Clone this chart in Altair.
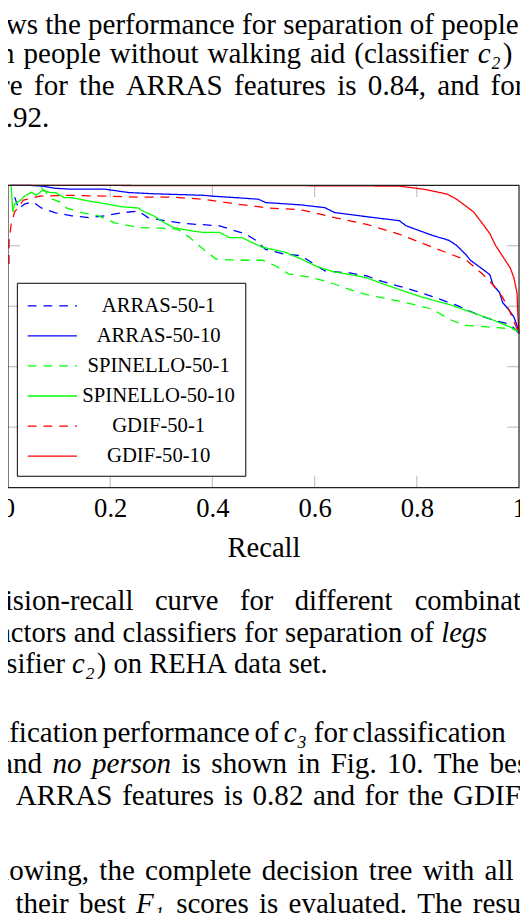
import altair as alt
import pandas as pd

# precision-recall curves
names = ["ARRAS-50-1", "ARRAS-50-10", "SPINELLO-50-1", "SPINELLO-50-10", "GDIF-50-1", "GDIF-50-10"]

arras_1_recall = [0.013, 0.021, 0.032, 0.049, 0.065, 0.093, 0.125, 0.158, 0.190, 0.222, 0.255, 0.274,
                  0.306, 0.350, 0.414, 0.466, 0.485, 0.504, 0.542, 0.574, 0.599, 0.620, 0.669, 0.702,
                  0.734, 0.766, 0.798, 0.831, 0.882, 0.926, 0.958, 0.981, 0.990, 1.0]
arras_1_prec = [0.961, 0.922, 0.938, 0.945, 0.925, 0.909, 0.899, 0.893, 0.899, 0.909, 0.915, 0.893,
                0.883, 0.873, 0.866, 0.838, 0.818, 0.788, 0.772, 0.767, 0.739, 0.717, 0.710, 0.700,
                0.681, 0.666, 0.650, 0.632, 0.600, 0.567, 0.550, 0.541, 0.528, 0.51]

arras_10_recall = [0.005, 0.040, 0.068, 0.093, 0.125, 0.190, 0.236, 0.285, 0.382, 0.401, 0.447, 0.490,
                   0.504, 0.574, 0.620, 0.639, 0.702, 0.766, 0.779, 0.831, 0.863, 0.878, 0.897, 0.905,
                   0.926, 0.943, 0.949, 0.962, 0.968, 0.981, 0.990, 0.996, 1.0]
arras_10_prec = [1.0, 1.0, 0.997, 0.990, 0.987, 0.987, 0.976, 0.972, 0.967, 0.964, 0.959, 0.954,
                 0.943, 0.935, 0.926, 0.910, 0.896, 0.883, 0.866, 0.834, 0.818, 0.801, 0.769, 0.752,
                 0.726, 0.704, 0.671, 0.645, 0.612, 0.586, 0.564, 0.537, 0.51]

spin_1_recall = [0.065, 0.087, 0.101, 0.114, 0.144, 0.177, 0.209, 0.255, 0.298, 0.331, 0.356, 0.382,
                 0.407, 0.447, 0.498, 0.523, 0.549, 0.587, 0.626, 0.669, 0.702, 0.766, 0.831, 0.863,
                 0.894, 0.958, 0.990, 1.0]
spin_1_prec = [0.993, 0.954, 0.945, 0.925, 0.910, 0.899, 0.876, 0.860, 0.858, 0.855, 0.827, 0.789,
               0.756, 0.752, 0.752, 0.734, 0.707, 0.697, 0.681, 0.655, 0.638, 0.617, 0.590, 0.557,
               0.537, 0.529, 0.524, 0.515]

spin_10_recall = [0.006, 0.0095, 0.013, 0.023, 0.032, 0.046, 0.055, 0.068, 0.082, 0.093, 0.110, 0.125,
                  0.158, 0.190, 0.222, 0.255, 0.266, 0.285, 0.306, 0.325, 0.356, 0.382, 0.414, 0.433,
                  0.458, 0.477, 0.498, 0.542, 0.574, 0.606, 0.639, 0.669, 0.702, 0.734, 0.766, 0.812,
                  0.863, 0.907, 0.945, 0.983, 1.0]
spin_10_prec = [1.0, 0.912, 0.938, 0.948, 0.964, 0.977, 0.967, 0.984, 0.976, 0.976, 0.959, 0.959,
                0.948, 0.939, 0.929, 0.925, 0.913, 0.899, 0.876, 0.860, 0.850, 0.844, 0.844, 0.827,
                0.827, 0.811, 0.795, 0.779, 0.756, 0.730, 0.713, 0.705, 0.694, 0.674, 0.655, 0.629,
                0.606, 0.580, 0.557, 0.531, 0.515]

gdif_1_recall = [0.002, 0.002, 0.006, 0.013, 0.030, 0.063, 0.125, 0.190, 0.255, 0.317, 0.382, 0.447,
                 0.510, 0.574, 0.639, 0.702, 0.766, 0.831, 0.897, 0.930, 0.949, 0.968, 0.981, 0.992, 1.0]
gdif_1_prec = [0.74, 0.81, 0.87, 0.912, 0.951, 0.964, 0.967, 0.964, 0.961, 0.961, 0.954, 0.938,
               0.925, 0.919, 0.893, 0.871, 0.838, 0.795, 0.752, 0.704, 0.671, 0.629, 0.586, 0.541, 0.51]

gdif_10_recall = [0.0, 0.1, 0.3, 0.5, 0.7, 0.766, 0.80, 0.814, 0.859, 0.878, 0.911, 0.926, 0.943,
                  0.954, 0.968, 0.983, 0.990, 0.996, 0.998, 1.0]
gdif_10_prec = [1.0, 1.0, 0.999, 0.999, 0.998, 0.997, 0.99, 0.987, 0.971, 0.954, 0.912, 0.879, 0.840,
                0.801, 0.765, 0.726, 0.694, 0.645, 0.564, 0.51]

x_ticks = [0, 0.2, 0.4, 0.6, 0.8, 1]
inner_ticks = [0.2, 0.4, 0.6, 0.8]

# surrounding page text (*word = italic, | joins pieces without a space)
top_text = [
    "ows the performance for separation of people",
    "n people without walking aid (classifier *c₂|)",
    "re for the ARRAS features is 0.84, and for",
    "0.92.",
]
caption_text = [
    "cision-recall curve for different combinations",
    "actors and classifiers for separation of *legs",
    "ssifier *c₂|) on REHA data set.",
]
body_text = [
    "ification performance of *c₃ for classification",
    "and *no *person is shown in Fig. 10. The best",
    "e ARRAS features is 0.82 and for the GDIF",
    "lowing, the complete decision tree with all",
    "t their best *F₁ scores is evaluated. The results",
]

# ---- build tables
curves = [
    (arras_1_recall, arras_1_prec), (arras_10_recall, arras_10_prec),
    (spin_1_recall, spin_1_prec), (spin_10_recall, spin_10_prec),
    (gdif_1_recall, gdif_1_prec), (gdif_10_recall, gdif_10_prec),
]
rows = []
for name, (rr, pp) in zip(names, curves):
    for i, (a, b) in enumerate(zip(rr, pp)):
        rows.append({"series": name, "recall": a, "precision": b, "i": i})
pr = pd.DataFrame(rows)

# Times-like advance widths (per 1000 em) to justify the text lines
ROMAN = dict(zip("abcdefghijklmnopqrstuvwxyz",
                 [444, 500, 444, 500, 444, 333, 500, 500, 278, 278, 500, 278, 778,
                  500, 500, 500, 500, 333, 389, 278, 500, 500, 722, 500, 500, 444]))
ROMAN.update(dict(zip("ABCDEFGHIJKLMNOPQRSTUVWXYZ",
                      [722, 667, 667, 722, 611, 556, 722, 722, 333, 389, 722, 611, 889,
                       722, 722, 556, 722, 667, 556, 611, 722, 722, 944, 722, 722, 611])))
ROMAN.update({".": 250, ",": 250, "-": 333, "(": 333, ")": 333, " ": 250})
ITALIC = dict(ROMAN)
ITALIC.update({"a": 500, "f": 278, "r": 389, "F": 611})
for ch in "₁₂₃":
    ROMAN[ch] = ITALIC[ch] = 420


def seg_w(s, it, size):
    tab = ITALIC if it else ROMAN
    return sum(tab.get(ch, 500) for ch in s) * size / 1000.0


# line layout: (page x of line start, page x where last word starts or None, baseline, font size)
layout = (
    [(-9, 448, 27, 29.5), (0, 485, 57, 29.5), (0, 498, 89, 29.5), (-9, None, 122, 29.5)]
    + [(-8, 421, 612, 29), (-2, 448, 645, 29), (-5, None, 676, 29)]
    + [(1, 358, 746, 29.5), (0, 497, 778, 29.5), (-7, 460, 810, 29.5),
       (1, 492, 887, 29.5), (-3, 480, 920, 29.5)]
)
words = []
for line, (x0, target, base, size) in zip(top_text + caption_text + body_text, layout):
    toks = []
    for w in line.split(" "):
        segs = [(s.lstrip("*"), s.startswith("*")) for s in w.split("|")]
        toks.append(segs)
    widths = [sum(seg_w(s, it, size) for s, it in t) for t in toks]
    if target is None or len(toks) < 2:
        gap = 0.25 * size
    else:
        gap = (target - x0 - sum(widths[:-1])) / (len(toks) - 1)
    x = x0
    for t, w in zip(toks, widths):
        xs = x
        for s, it in t:
            words.append({"t": s, "x": xs - 8, "y": base - 8, "size": size, "it": it})
            xs += seg_w(s, it, size)
        x += w + gap
words = pd.DataFrame(words)

# ---- chart
FONT = "Liberation Serif"
xs = alt.Scale(domain=[0, 1], range=[0, 519])
ys = alt.Scale(domain=[0, 1], range=[480, 173])

frame = alt.Chart(pd.DataFrame({"a": [0], "b": [1]})).mark_rect(
    fillOpacity=0, stroke="#222222", strokeWidth=1.2
).encode(
    x=alt.X("a:Q", scale=xs, axis=None), x2="b:Q",
    y=alt.Y("a:Q", scale=ys, axis=None), y2="b:Q",
)

tk = pd.DataFrame({"v": inner_ticks})
tick_style = dict(size=12, thickness=1.2, color="#a8a8a8")
t_bottom = alt.Chart(tk).mark_tick(orient="vertical", yOffset=-6, **tick_style).encode(
    x=alt.X("v:Q", scale=xs, axis=None), y=alt.YDatum(0, scale=ys, axis=None))
t_top = alt.Chart(tk).mark_tick(orient="vertical", yOffset=6, **tick_style).encode(
    x=alt.X("v:Q", scale=xs, axis=None), y=alt.YDatum(1, scale=ys, axis=None))
t_left = alt.Chart(tk).mark_tick(orient="horizontal", xOffset=6, **tick_style).encode(
    y=alt.Y("v:Q", scale=ys, axis=None), x=alt.XDatum(0, scale=xs, axis=None))
t_right = alt.Chart(tk).mark_tick(orient="horizontal", xOffset=-6, **tick_style).encode(
    y=alt.Y("v:Q", scale=ys, axis=None), x=alt.XDatum(1, scale=xs, axis=None))

leg = alt.Legend(
    orient="none", legendX=9, legendY=272, title=None,
    symbolType="M-1,0H3", symbolSize=625, symbolStrokeWidth=1.3,
    labelFont=FONT, labelFontSize=21, labelColor="black",
    labelAlign="center", labelOffset=107, labelLimit=400,
    padding=10, rowPadding=6.5, strokeColor="black", fillColor="white",
    cornerRadius=0,
)
lines = alt.Chart(pr).mark_line(strokeWidth=1.3).encode(
    x=alt.X("recall:Q", scale=xs, axis=alt.Axis(
        values=x_ticks, format="~g", grid=False, ticks=False, domain=False,
        labelFont=FONT, labelFontSize=27, labelColor="black", labelPadding=8,
        labelFlush=False, labelOverlap=False, offset=-425,
        title="Recall", titleFont=FONT, titleFontSize=29, titleFontWeight="normal",
        titleColor="black", titlePadding=13)),
    y=alt.Y("precision:Q", scale=ys, axis=None),
    color=alt.Color("series:N", sort=names, legend=leg,
                    scale=alt.Scale(domain=names, range=["#0000ff", "#0000ff", "#00ff00",
                                                         "#00ff00", "#ff0000", "#ff0000"])),
    strokeDash=alt.StrokeDash("series:N", sort=names, legend=leg,
                              scale=alt.Scale(domain=names, range=[[9, 7], [1, 0], [9, 7],
                                                                   [1, 0], [9, 7], [1, 0]])),
    order="i:Q",
)


def text_layer(italic):
    return alt.Chart(words).transform_filter(
        "datum.it" if italic else "!datum.it"
    ).mark_text(
        align="left", baseline="alphabetic", font=FONT, color="black",
        fontStyle="italic" if italic else "normal",
    ).encode(
        x=alt.X("x:Q", scale=None, axis=None),
        y=alt.Y("y:Q", scale=None, axis=None),
        size=alt.Size("size:Q", scale=None, legend=None),
        text="t:N",
    )


chart = alt.layer(
    t_bottom, t_top, t_left, t_right, lines, frame, text_layer(False), text_layer(True)
).resolve_scale(
    x="independent", y="independent"
).properties(
    width=520, height=905, padding=0, autosize="none"
).configure(
    font=FONT
).configure_view(stroke=None)

chart.save("out.html", embed_options={"renderer": "svg", "actions": False})
